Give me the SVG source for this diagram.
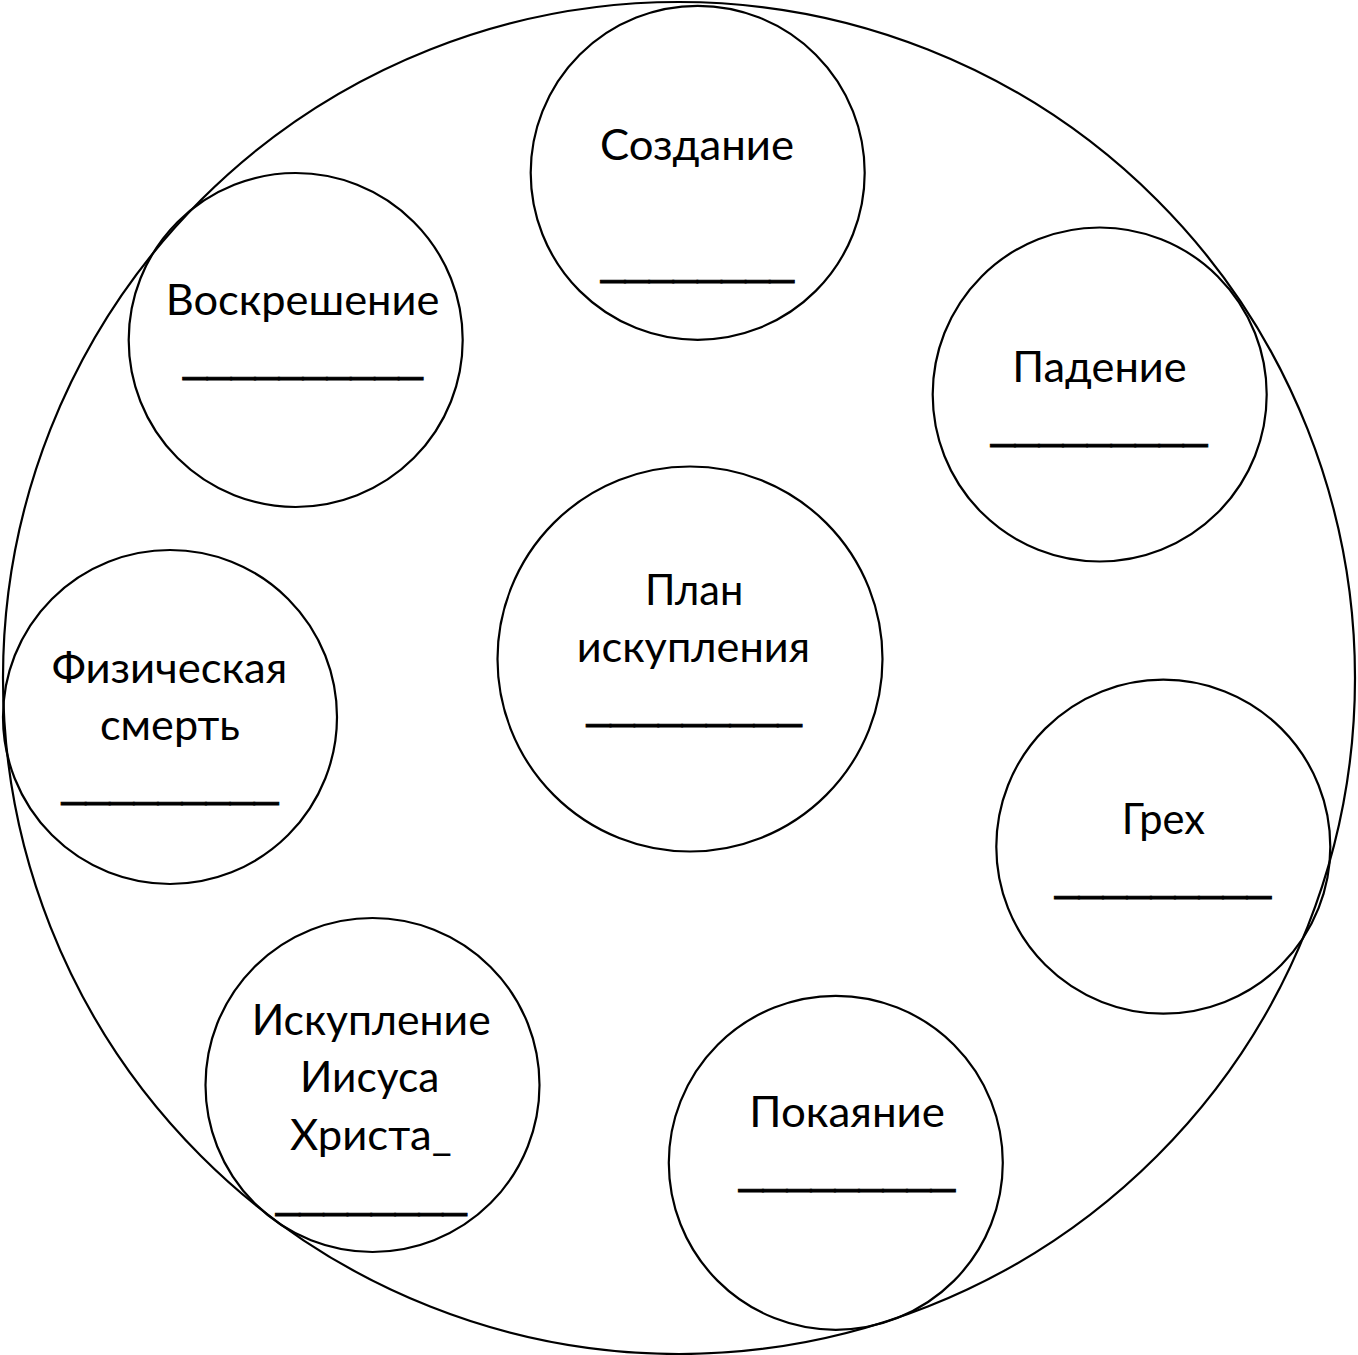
<svg xmlns="http://www.w3.org/2000/svg" width="1358" height="1355" viewBox="0 0 1358 1355">
<style>
.c{fill:none;stroke:#000;stroke-width:2.2}
.t{font-family:Lato,"Liberation Sans",sans-serif;font-size:43px;fill:#000}
.u{font-family:"Liberation Sans",Arial,sans-serif;font-size:43px;fill:#000;stroke:#000;stroke-width:0.9}
</style>
<rect width="1358" height="1355" fill="#fff"/>
<g id="outer"><circle class="c" cx="679" cy="678" r="676"/></g>
<g id="connectors"></g>
<g id="sozdanie"><circle class="c" cx="697.7" cy="172.8" r="167"/>
<text class="t" x="600" y="160" textLength="194" lengthAdjust="spacingAndGlyphs">Создание</text>
<text class="u" x="601" y="274.6" textLength="193" lengthAdjust="spacingAndGlyphs">________</text></g>
<g id="voskreshenie"><circle class="c" cx="295.7" cy="340" r="167"/>
<text class="t" x="165.7" y="315" textLength="273.7" lengthAdjust="spacingAndGlyphs">Воскрешение</text>
<text class="u" x="183.3" y="371.6" textLength="239.4" lengthAdjust="spacingAndGlyphs">__________</text></g>
<g id="padenie"><circle class="c" cx="1099.7" cy="394.5" r="167"/>
<text class="t" x="1012.3" y="381.7" textLength="174.4" lengthAdjust="spacingAndGlyphs">Падение</text>
<text class="u" x="991" y="439.3" textLength="216.3" lengthAdjust="spacingAndGlyphs">_________</text></g>
<g id="plan"><circle class="c" cx="690" cy="659" r="192.5"/>
<text class="t" x="645" y="605" textLength="98.3" lengthAdjust="spacingAndGlyphs">План</text>
<text class="t" x="576.7" y="661.7" textLength="233.3" lengthAdjust="spacingAndGlyphs">искупления</text>
<text class="u" x="586.7" y="719.3" textLength="215" lengthAdjust="spacingAndGlyphs">_________</text></g>
<g id="fiz"><circle class="c" cx="170" cy="717" r="167"/>
<text class="t" x="51.7" y="683.3" textLength="235.6" lengthAdjust="spacingAndGlyphs">Физическая</text>
<text class="t" x="100" y="740" textLength="140" lengthAdjust="spacingAndGlyphs">смерть</text>
<text class="u" x="61.7" y="796.6" textLength="216.6" lengthAdjust="spacingAndGlyphs">_________</text></g>
<g id="greh"><circle class="c" cx="1163.3" cy="846.7" r="167"/>
<text class="t" x="1121.7" y="834" textLength="83.3" lengthAdjust="spacingAndGlyphs">Грех</text>
<text class="u" x="1055" y="890.6" textLength="216" lengthAdjust="spacingAndGlyphs">_________</text></g>
<g id="iskuplenie"><circle class="c" cx="372.5" cy="1085" r="167"/>
<text class="t" x="251.7" y="1035" textLength="239" lengthAdjust="spacingAndGlyphs">Искупление</text>
<text class="t" x="300" y="1091.7" textLength="139.3" lengthAdjust="spacingAndGlyphs">Иисуса</text>
<text class="t" x="290" y="1150" textLength="161.7" lengthAdjust="spacingAndGlyphs">Христа_</text>
<text class="u" x="276" y="1207.6" textLength="190.7" lengthAdjust="spacingAndGlyphs">________</text></g>
<g id="pokayanie"><circle class="c" cx="835.8" cy="1162.8" r="167"/>
<text class="t" x="749.3" y="1126.7" textLength="195.7" lengthAdjust="spacingAndGlyphs">Покаяние</text>
<text class="u" x="739" y="1183.6" textLength="216" lengthAdjust="spacingAndGlyphs">_________</text></g>
</svg>
